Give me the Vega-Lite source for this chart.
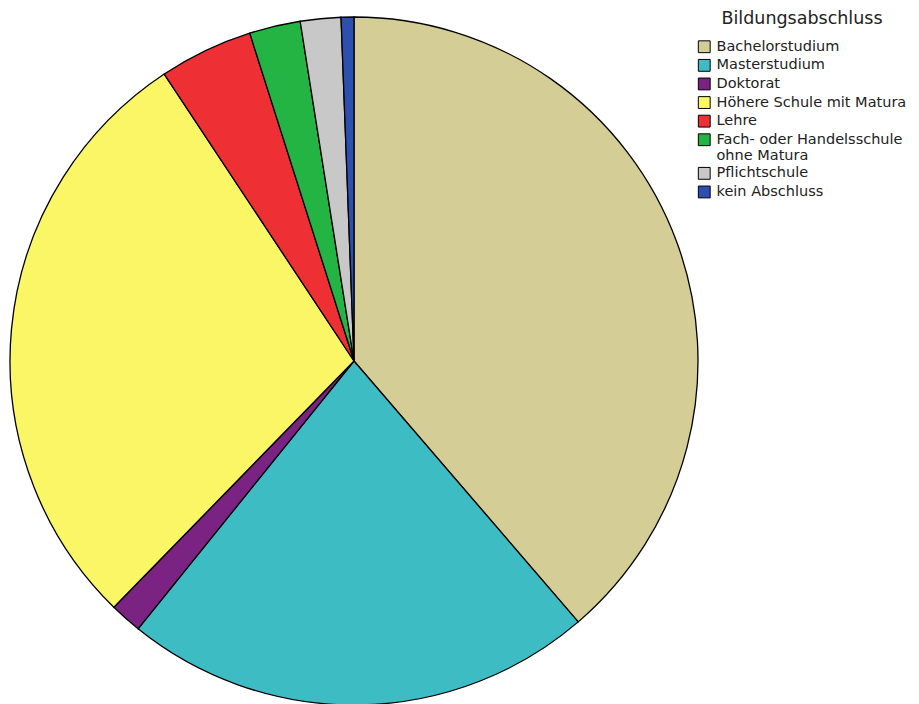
{
  "$schema": "https://vega.github.io/schema/vega-lite/v6.json",
  "autosize": "none",
  "width": 708,
  "height": 722,
  "padding": {"left": 0, "top": 0, "right": 211, "bottom": 0},
  "background": "white",
  "data": {
    "values": [
      {"abschluss": "Bachelorstudium", "anteil": 38.7, "ord": 1},
      {"abschluss": "Masterstudium", "anteil": 22.1, "ord": 2},
      {"abschluss": "Doktorat", "anteil": 1.5, "ord": 3},
      {"abschluss": "Höhere Schule mit Matura", "anteil": 28.4, "ord": 4},
      {"abschluss": "Lehre", "anteil": 4.4, "ord": 5},
      {"abschluss": "Fach- oder Handelsschule ohne Matura", "anteil": 2.4, "ord": 6},
      {"abschluss": "Pflichtschule", "anteil": 1.9, "ord": 7},
      {"abschluss": "kein Abschluss", "anteil": 0.6, "ord": 8}
    ]
  },
  "mark": {"type": "arc", "outerRadius": 344, "stroke": "black", "strokeWidth": 1.3},
  "encoding": {
    "theta": {"field": "anteil", "type": "quantitative", "stack": true},
    "order": {"field": "ord", "type": "quantitative"},
    "color": {
      "field": "abschluss",
      "type": "nominal",
      "sort": {"field": "ord"},
      "scale": {
        "domain": ["Bachelorstudium", "Masterstudium", "Doktorat", "Höhere Schule mit Matura", "Lehre", "Fach- oder Handelsschule ohne Matura", "Pflichtschule", "kein Abschluss"],
        "range": ["#d4cd96", "#3dbcc4", "#7b2382", "#fbf665", "#ee3034", "#23b443", "#c8c8c8", "#2d4fb0"]
      },
      "legend": {
        "title": "Bildungsabschluss",
        "orient": "none",
        "legendX": 697,
        "legendY": 10,
        "titleFont": "DejaVu Sans",
        "titleFontSize": 17.5,
        "titleFontWeight": "normal",
        "titleColor": "#222",
        "titleAnchor": "middle",
        "titlePadding": 12,
        "labelFont": "DejaVu Sans",
        "labelFontSize": 14.5,
        "labelColor": "#222",
        "labelOffset": 5,
        "labelLimit": 300,
        "labelExpr": "datum.label == 'Fach- oder Handelsschule ohne Matura' ? ['Fach- oder Handelsschule', 'ohne Matura'] : datum.label",
        "symbolType": "square",
        "symbolSize": 140,
        "symbolStrokeColor": "black",
        "symbolStrokeWidth": 1,
        "symbolOpacity": 1,
        "rowPadding": 1.6
      }
    }
  },
  "config": {"view": {"stroke": null}}
}
